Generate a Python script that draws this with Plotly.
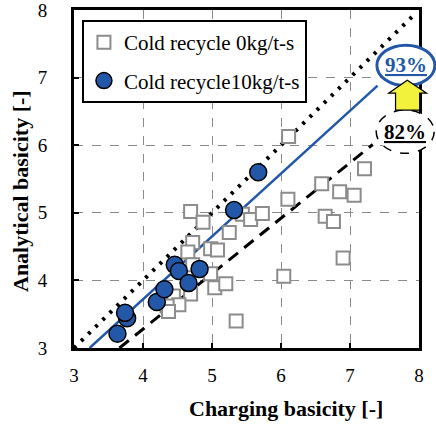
import plotly.graph_objects as go

# Charging vs analytical basicity, two cold-recycle conditions
charge_0kg = [4.69, 4.87, 5.25, 4.72, 4.65, 4.98, 5.08, 4.72, 4.98, 5.04,
              5.20, 4.69, 4.44, 4.52, 4.35, 4.37, 5.35, 5.44, 5.56, 5.73,
              6.10, 6.04, 6.59, 6.85, 7.06, 7.21, 6.64, 6.76, 6.90, 6.11]
analyt_0kg = [5.02, 4.86, 4.71, 4.56, 4.42, 4.47, 4.45, 4.23, 4.10, 3.89,
              3.95, 3.80, 3.77, 3.64, 3.62, 3.54, 3.40, 4.98, 4.90, 4.99,
              5.20, 4.06, 5.43, 5.31, 5.26, 5.65, 4.95, 4.87, 4.33, 6.13]

charge_10kg = [3.63, 3.77, 3.74, 4.20, 4.31, 4.46, 4.52, 4.66, 4.82, 5.32, 5.67]
analyt_10kg = [3.21, 3.44, 3.52, 3.68, 3.87, 4.23, 4.14, 3.96, 4.17, 5.04, 5.60]

# Yield ratios of the two regression lines (analytical = ratio * charging)
ratio_10kg = 0.93
ratio_0kg = 0.82

x_range = [3, 8]
y_range = [3, 8]
ticks = [3, 4, 5, 6, 7, 8]

SERIF = "Liberation Serif"
BLUE = "#2358a8"
GRAY = "#8c8c8c"


def px(x):
    return (x - x_range[0]) / (x_range[1] - x_range[0])


def py(y):
    return (y - y_range[0]) / (y_range[1] - y_range[0])


fig = go.Figure()

# 1:1 reference line
fig.add_trace(go.Scatter(
    x=[3, 7.9], y=[3, 7.9], mode="lines", showlegend=False,
    line=dict(color="black", width=4, dash="3px,7px"), hoverinfo="skip"))

# regression line for 0 kg/t-s
x0a = y_range[0] / ratio_0kg
fig.add_trace(go.Scatter(
    x=[x0a, 7.33], y=[ratio_0kg * x0a, ratio_0kg * 7.33], mode="lines",
    showlegend=False, line=dict(color="black", width=3, dash="12px,8px"),
    hoverinfo="skip"))

# regression line for 10 kg/t-s
x1a = y_range[0] / ratio_10kg
fig.add_trace(go.Scatter(
    x=[x1a, 7.4], y=[ratio_10kg * x1a, ratio_10kg * 7.4], mode="lines",
    showlegend=False, line=dict(color=BLUE, width=2.5), hoverinfo="skip"))

fig.add_trace(go.Scatter(
    x=charge_0kg, y=analyt_0kg, mode="markers",
    name="Cold recycle 0kg/t-s", legendgroup="a",
    marker=dict(symbol="square", size=13, color="white",
                line=dict(color=GRAY, width=2))))

fig.add_trace(go.Scatter(
    x=charge_10kg, y=analyt_10kg, mode="markers",
    name="Cold recycle10kg/t-s", legendgroup="b",
    marker=dict(symbol="circle", size=17, color=BLUE,
                line=dict(color="black", width=1.5))))

axis_common = dict(
    tickvals=ticks, showline=True, linewidth=3, linecolor="black",
    mirror=True, ticks="inside", ticklen=5, tickwidth=2, tickcolor="black",
    showgrid=True, gridcolor="#8a8a8a", griddash="dash", gridwidth=1,
    zeroline=False, automargin=False, ticklabeloverflow="allow",
    tickfont=dict(family=SERIF, size=19, color="black"),
)

fig.update_xaxes(**axis_common, range=x_range, ticklabelstandoff=8)
fig.update_yaxes(**axis_common, range=y_range, ticklabelstandoff=20)

# ellipse call-outs and the arrow between them
fig.add_shape(type="circle", xref="paper", yref="paper",
              x0=px(7.81 - 0.42), x1=px(7.81 + 0.42),
              y0=py(7.18 - 0.30), y1=py(7.18 + 0.30),
              line=dict(color=BLUE, width=3), fillcolor="white", layer="above")
fig.add_shape(type="circle", xref="paper", yref="paper",
              x0=px(7.80 - 0.42), x1=px(7.80 + 0.42),
              y0=py(6.20 - 0.32), y1=py(6.20 + 0.32),
              line=dict(color="black", width=1.5, dash="dash"),
              fillcolor="white", layer="above")

arrow_pts = [(7.66, 6.52), (7.66, 6.77), (7.56, 6.77), (7.83, 6.96),
             (8.11, 6.77), (8.01, 6.77), (8.01, 6.52)]
path = "M " + " L ".join(f"{px(a):.4f},{py(b):.4f}" for a, b in arrow_pts) + " Z"
fig.add_shape(type="path", xref="paper", yref="paper", path=path,
              fillcolor="#f2f23c", line=dict(color="black", width=1.2),
              layer="above")

fig.add_annotation(x=px(7.81), y=py(7.18), xref="paper", yref="paper",
                   xanchor="center", yanchor="middle",
                   text="<b><u>93%</u></b>", showarrow=False,
                   font=dict(family=SERIF, size=21, color=BLUE))
fig.add_annotation(x=px(7.80), y=py(6.20), xref="paper", yref="paper",
                   xanchor="center", yanchor="middle",
                   text="<b><u>82%</u></b>", showarrow=False,
                   font=dict(family=SERIF, size=21, color="black"))

# axis titles
fig.add_annotation(x=0.614, y=-0.18, xref="paper", yref="paper",
                   xanchor="center", yanchor="middle",
                   text="<b>Charging basicity [-]</b>",
                   showarrow=False, font=dict(family=SERIF, size=22, color="black"))
fig.add_annotation(x=-0.157, y=0.464, xref="paper", yref="paper",
                   xanchor="center", yanchor="middle",
                   textangle=-90, text="<b>Analytical basicity [-]</b>",
                   showarrow=False, font=dict(family=SERIF, size=22, color="black"))

fig.update_layout(
    width=436, height=425,
    margin=dict(l=74, r=17, t=10, b=77),
    paper_bgcolor="white", plot_bgcolor="white",
    font=dict(family=SERIF, color="black"),
    legend=dict(x=0.023, y=0.97, xanchor="left", yanchor="top",
                bgcolor="white", bordercolor="black", borderwidth=2,
                tracegroupgap=8,
                font=dict(family=SERIF, size=21, color="black")),
)

fig.write_html("out.html")
